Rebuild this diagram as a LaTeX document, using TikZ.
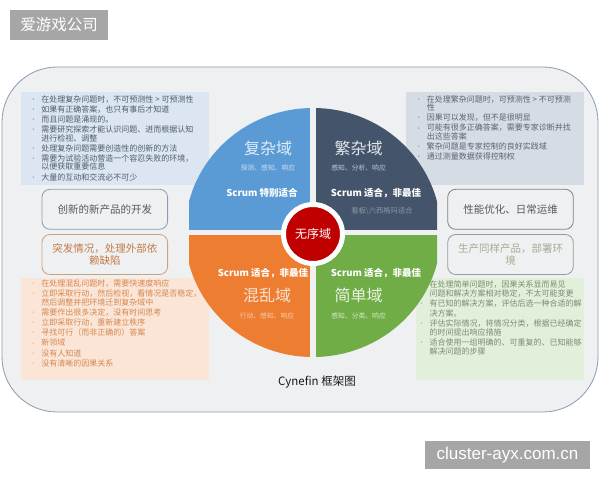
\documentclass[tikz,border=0pt]{standalone}
\usepackage{fontspec}
\usepackage{graphicx}
\setmainfont{Noto Sans CJK SC}
\newfontfamily\cjk{Noto Sans CJK SC}
\newfontfamily\latf{Liberation Sans}
\newcommand\fs[2]{\fontsize{#1}{#2}\selectfont}
\newcommand\bu{\llap{\raisebox{0.8pt}{\fs{5}{5}•}\hspace{5.5pt}}}
\definecolor{bgc}{RGB}{239,240,242}
\definecolor{outerline}{HTML}{8A9BB0}
\definecolor{qblue}{HTML}{5B9BD5}
\definecolor{qnavy}{HTML}{44546A}
\definecolor{qorange}{HTML}{ED7D31}
\definecolor{qgreen}{HTML}{70AD47}
\definecolor{qred}{HTML}{C00000}
\definecolor{tlfill}{HTML}{DCE6F2}
\definecolor{trfill}{HTML}{D6DCE4}
\definecolor{blfill}{HTML}{FBE5D6}
\definecolor{brfill}{HTML}{E2EFDA}
\definecolor{tltext}{HTML}{4F5B6E}
\definecolor{trtext}{HTML}{5B6372}
\definecolor{bltext}{HTML}{D4884F}
\definecolor{brtext}{HTML}{7D8C72}
\definecolor{tagc}{HTML}{A6A6A6}
\begin{document}
\begin{tikzpicture}[x=1pt,y=-1pt,
  ptext/.style={inner sep=0pt, align=left, font=\cjk\fs{8}{8.4}, anchor=north west},
  mbox/.style={draw, line width=0.8pt, rounded corners=8pt, minimum width=125.6pt, minimum height=40pt, inner sep=0pt, align=center, font=\cjk\fs{10.5}{12.4}, fill=bgc},
  qbig/.style={inner sep=0pt, font=\cjk\fs{16}{16}},
  qsmall/.style={inner sep=0pt, font=\cjk\fs{6.8}{6.8}},
  qscrum/.style={inner sep=0pt, font=\cjk\bfseries\fs{9.5}{9.5}, text=white},
  tag/.style={fill=tagc, text=white, inner sep=0pt}]
\useasboundingbox (0,0) rectangle (600,480);
\fill[white] (0,0) rectangle (600,480);
% outer frame
\draw[draw=outerline, fill=bgc, line width=0.8pt, rounded corners=55pt] (2,67) rectangle (598,412);
% panels
\fill[tlfill] (21,91.7) rectangle (208.6,185);
\fill[trfill] (406.4,91.7) rectangle (583.6,185);
\fill[blfill] (21,277.7) rectangle (208.6,380);
\fill[brfill] (416.4,277.7) rectangle (583.6,380);
% middle boxes
\node[mbox, draw=outerline, text=black!65] (mb1) at (104.8,209.3) {创新的新产品的开发};
\node[mbox, draw={rgb,255:red,205;green,160;blue,125}, text={rgb,255:red,196;green,122;blue,70}] (mb2) at (104.8,254.5) {突发情况，处理外部依\\赖缺陷};
\node[mbox, draw=black!50, text=black!65] (mr1) at (510.5,209.3) {性能优化、日常运维};
\node[mbox, draw=black!40, text={rgb,255:red,160;green,175;blue,148}] (mr2) at (510.5,254.5) {生产同样产品，部署环\\境};
% quadrants
\begin{scope}
\clip (189,0) rectangle (437,480);
\clip (313,232.5) ellipse [x radius=128, y radius=124.5];
\fill[qblue] (150,90) rectangle (310.2,230);
\fill[qnavy] (315.8,90) rectangle (480,230);
\fill[qorange] (150,235) rectangle (310.2,380);
\fill[qgreen] (315.8,235) rectangle (480,380);
\end{scope}
% panel texts
\node[ptext, text=tltext] (tltxt) at (41.3,95.2) {\bu 在处理复杂问题时，不可预测性 > 可预测性\\[1.8pt]
\bu 如果有正确答案，也只有事后才知道\\[1.8pt]
\bu 而且问题是涌现的。\\[1.8pt]
\bu 需要研究探索才能认识问题、进而根据认知\\
进行检视、调整\\[1.8pt]
\bu 处理复杂问题需要创造性的创新的方法\\[1.8pt]
\bu 需要为试验活动营造一个容忍失败的环境，\\
以便获取重要信息\\[1.8pt]
\bu 大量的互动和交流必不可少};
\node[ptext, text=trtext] (trtxt) at (426.7,95.2) {\bu 在处理繁杂问题时，可预测性 > 不可预测\\
性\\[1.8pt]
\bu 因果可以发现，但不是很明显\\[1.8pt]
\bu 可能有很多正确答案，需要专家诊断并找\\
出这些答案\\[1.8pt]
\bu 繁杂问题是专家控制的良好实践域\\[1.8pt]
\bu 通过测量数据获得控制权};
\node[ptext, text=bltext] (bltxt) at (41.3,279.5) {\bu 在处理混乱问题时，需要快速度响应\\[1.8pt]
\bu 立即采取行动，然后检视，看情况是否稳定，\\
然后调整并把环境迁到复杂域中\\[1.8pt]
\bu 需要作出很多决定，没有时间思考\\[1.8pt]
\bu 立即采取行动，重新建立秩序\\[1.8pt]
\bu 寻找可行（而非正确的）答案\\[1.8pt]
\bu 新领域\\[1.8pt]
\bu 没有人知道\\[1.8pt]
\bu 没有清晰的因果关系};
\node[ptext, text=brtext, font=\cjk\fs{8}{9.3}] (brtxt) at (429.4,280.5) {在处理简单问题时，因果关系显而易见\\
问题和解决方案相对稳定，不太可能变更\\[0.7pt]
\bu 有已知的解决方案，评估后选一种合适的解\\
决方案。\\[0.7pt]
\bu 评估实际情况，将情况分类，根据已经确定\\
的时间提出响应措施\\[0.7pt]
\bu 适合使用一组明确的、可重复的、已知能够\\
解决问题的步骤};
% quadrant labels
\node[qbig, text={rgb,255:red,226;green,236;blue,247}] (q1t) at (268,148.3) {复杂域};
\node[qsmall, text={rgb,255:red,205;green,222;blue,242}] (q1s) at (268,168.3) {探测、感知、响应};
\node[qscrum] (q1c) at (262,193.3) {Scrum 特别适合};
\node[qbig, text={rgb,255:red,225;green,230;blue,236}] (q2t) at (358.6,148.3) {繁杂域};
\node[qsmall, text={rgb,255:red,195;green,203;blue,212}] (q2s) at (358.6,168.3) {感知、分析、响应};
\node[qscrum] (q2c) at (376,193.3) {Scrum 适合，非最佳};
\node[qsmall, font=\cjk\fs{7.3}{7.3}, text={rgb,255:red,140;green,150;blue,164}] (q2k) at (382,211) {看板\textbackslash 六西格玛适合};
\node[qscrum] (q3c) at (263,273.3) {Scrum 适合，非最佳};
\node[qbig, text={rgb,255:red,252;green,226;blue,208}] (q3t) at (267,295) {混乱域};
\node[qsmall, text={rgb,255:red,250;green,205;blue,175}] (q3s) at (267,315.7) {行动、感知、响应};
\node[qscrum] (q4c) at (376,273.3) {Scrum 适合，非最佳};
\node[qbig, text={rgb,255:red,232;green,244;blue,224}] (q4t) at (358.6,295) {简单域};
\node[qsmall, text={rgb,255:red,215;green,235;blue,200}] (q4s) at (358.6,315.7) {感知、分类、响应};
% center
\node[circle, fill=qred, draw=white, line width=5pt, minimum size=59pt, inner sep=0pt, text=white, font=\cjk\fs{12}{12}] (chaos) at (313,234) {无序域};
% caption
\node[inner sep=0pt, font=\cjk\fs{11.5}{11.5}, text=black!90] (cap) at (317,382) {Cynefin 框架图};
% tags
\node[tag, minimum width=98pt, minimum height=30pt, font=\cjk\fs{15.5}{15.5}] (brand) at (59,25) {爱游戏公司};
\node[tag, minimum width=165pt, minimum height=28pt, font=\latf\fs{17}{17}] (wm) at (507.5,455) {cluster-ayx.com.cn};
\end{tikzpicture}
\end{document}
